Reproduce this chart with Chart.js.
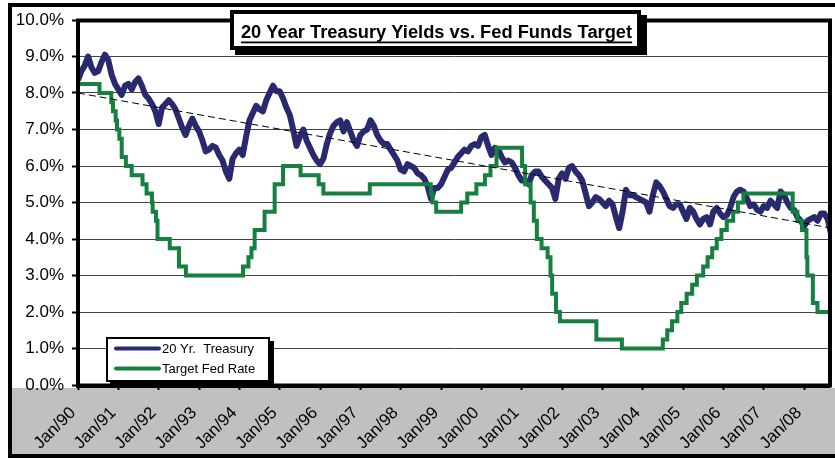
<!DOCTYPE html>
<html>
<head>
<meta charset="utf-8">
<title>20 Year Treasury Yields vs. Fed Funds Target</title>
<script src="https://cdn.jsdelivr.net/npm/chart.js@4/dist/chart.umd.min.js"></script>
<style>
  html, body { margin: 0; padding: 0; background: #fff; }
  #wrap { width: 835px; height: 458px; }
</style>
</head>
<body>
<div id="wrap"><canvas id="chart" width="835" height="458"></canvas></div>
<script>
// x values are months counted from Jan 1990 (0 = Jan/90)
const tickLabels = ['Jan/90', 'Jan/91', 'Jan/92', 'Jan/93', 'Jan/94', 'Jan/95', 'Jan/96',
  'Jan/97', 'Jan/98', 'Jan/99', 'Jan/00', 'Jan/01', 'Jan/02', 'Jan/03', 'Jan/04',
  'Jan/05', 'Jan/06', 'Jan/07', 'Jan/08'];

// 20 yr treasury, one value per month, Jan/90 .. Sep/08
const treasuryYields = [
  8.35, 8.60, 8.75, 9.00, 8.70, 8.55, 8.60, 8.85, 9.05, 8.90, 8.50, 8.25, // 1990
  8.10, 7.95, 8.20, 8.25, 8.10, 8.30, 8.40, 8.20, 7.95, 7.85, 7.70, 7.50, // 1991
  7.15, 7.60, 7.70, 7.80, 7.70, 7.55, 7.30, 7.05, 6.85, 7.10, 7.30, 7.10, // 1992
  6.95, 6.70, 6.40, 6.45, 6.55, 6.50, 6.30, 6.15, 5.85, 5.65, 6.20, 6.35, // 1993
  6.45, 6.30, 6.80, 7.25, 7.45, 7.65, 7.55, 7.50, 7.80, 8.00, 8.20, 8.05, // 1994
  8.05, 7.85, 7.60, 7.40, 7.00, 6.55, 6.80, 7.00, 6.70, 6.50, 6.30, 6.15, // 1995
  6.05, 6.20, 6.60, 6.90, 7.10, 7.20, 7.25, 6.95, 7.20, 6.95, 6.70, 6.55, // 1996
  6.85, 6.95, 7.00, 7.25, 7.10, 6.85, 6.70, 6.60, 6.60, 6.45, 6.30, 6.15, // 1997
  5.90, 5.85, 6.05, 6.00, 5.95, 5.80, 5.75, 5.65, 5.45, 5.10, 5.40, 5.40, // 1998
  5.50, 5.70, 5.90, 5.95, 6.10, 6.25, 6.35, 6.45, 6.40, 6.55, 6.60, 6.55, // 1999
  6.80, 6.85, 6.55, 6.30, 6.50, 6.45, 6.25, 6.10, 6.15, 6.10, 5.95, 5.75, // 2000
  5.60, 5.60, 5.50, 5.75, 5.85, 5.85, 5.70, 5.60, 5.50, 5.40, 5.10, 5.65, // 2001
  5.80, 5.65, 5.95, 6.00, 5.85, 5.75, 5.60, 5.25, 4.90, 5.00, 5.15, 5.10, // 2002
  5.00, 4.90, 5.05, 4.95, 4.60, 4.30, 4.75, 5.35, 5.20, 5.20, 5.15, 5.10, // 2003
  5.05, 5.00, 4.75, 5.20, 5.55, 5.45, 5.30, 5.10, 4.90, 4.85, 4.95, 4.95, // 2004
  4.75, 4.55, 4.85, 4.75, 4.55, 4.40, 4.55, 4.60, 4.40, 4.75, 4.85, 4.70, // 2005
  4.60, 4.65, 4.85, 5.15, 5.30, 5.35, 5.30, 5.10, 4.90, 4.95, 4.80, 4.75, // 2006
  4.90, 4.85, 5.05, 4.95, 4.85, 5.30, 5.20, 5.00, 4.85, 4.80, 4.60, 4.50, // 2007
  4.35, 4.50, 4.55, 4.60, 4.50, 4.70, 4.70, 4.55, 4.15                    // 2008
];

// fed funds target: month of each change and the new rate
const fedChangeMonths = [0, 6.4, 9.9, 10.4, 11.2, 11.6, 12.3, 13.0, 14.25, 15.97,
  19.2, 20.4, 22.0, 22.2, 23.2, 23.65, 27.3, 30.05, 32.1,
  49.1, 50.7, 51.6, 52.55, 55.5, 58.5, 61.0, 66.2, 71.6, 73.0, 86.8,
  104.95, 105.5, 106.55, 113.97, 115.8, 118.5, 121.05, 122.7, 124.5,
  132.1, 133.0, 134.65, 135.6, 136.5, 137.9, 139.7, 140.55, 141.05, 142.2, 143.35,
  154.2, 161.8, 173.97, 175.3, 176.7, 178.3, 179.45, 181.05, 182.7, 184.1, 185.97,
  187.3, 188.65, 190.0, 191.4, 193.0, 194.9, 196.3, 197.95,
  212.6, 214.0, 215.35, 216.7, 216.97, 218.6, 219.97, 224];
const fedTargetRates = [8.25, 8.0, 7.75, 7.5, 7.25, 7.0, 6.75, 6.25, 6.0, 5.75,
  5.5, 5.25, 5.0, 4.75, 4.5, 4.0, 3.75, 3.25, 3.0,
  3.25, 3.5, 3.75, 4.25, 4.75, 5.5, 6.0, 5.75, 5.5, 5.25, 5.5,
  5.25, 5.0, 4.75, 5.0, 5.25, 5.5, 5.75, 6.0, 6.5,
  6.0, 5.5, 5.0, 4.5, 4.0, 3.75, 3.5, 3.0, 2.5, 2.0, 1.75,
  1.25, 1.0, 1.25, 1.5, 1.75, 2.0, 2.25, 2.5, 2.75, 3.0, 3.25,
  3.5, 3.75, 4.0, 4.25, 4.5, 4.75, 5.0, 5.25,
  4.75, 4.5, 4.25, 3.5, 3.0, 2.25, 2.0, 2.0];

// linear trend of the treasury series, start and end
const trendMonths = [0, 224];
const trendValues = [8.0, 4.3];

const NAVY = '#29296f';
const GREEN = '#168040';
const FONT = '"Liberation Sans", Arial, sans-serif';

const treasuryPoints = treasuryYields.map((y, i) => ({ x: i, y: y }));
const fedPoints = fedChangeMonths.map((m, i) => ({ x: m, y: fedTargetRates[i] }));
const trendPoints = trendMonths.map((m, i) => ({ x: m, y: trendValues[i] }));

// background, frames, title box and legend box
const chartDecor = {
  id: 'chartDecor',
  beforeDraw(chart) {
    const ctx = chart.ctx;
    const a = chart.chartArea;
    ctx.save();
    ctx.fillStyle = '#fff';
    ctx.fillRect(0, 0, chart.width, chart.height);
    ctx.fillStyle = '#c0c0c0';
    ctx.fillRect(10, a.bottom + 3, chart.width, chart.height);
    ctx.strokeStyle = '#000';
    ctx.lineWidth = 4;
    ctx.strokeRect(10, 5, chart.width + 10, chart.height - 7);
    ctx.restore();
  },
  afterDatasetsDraw(chart) {
    const ctx = chart.ctx;
    const a = chart.chartArea;
    ctx.save();
    ctx.strokeStyle = '#000';
    ctx.lineWidth = 4;
    ctx.strokeRect(a.left, a.top + 0.5, a.right - a.left - 1, a.bottom - a.top);
    ctx.fillStyle = '#000';
    ctx.fillRect(a.left - 2, a.bottom + 1, a.right - a.left + 1, 2);
    ctx.restore();
  },
  afterDraw(chart) {
    const ctx = chart.ctx;
    ctx.save();

    // title box with drop shadow
    ctx.fillStyle = '#000';
    ctx.fillRect(235, 15, 412, 40);
    ctx.fillStyle = '#fff';
    ctx.fillRect(230, 10, 411, 40);
    ctx.strokeStyle = '#000';
    ctx.lineWidth = 4;
    ctx.strokeRect(232, 12, 407, 36);
    const title = '20 Year Treasury Yields vs. Fed Funds Target';
    ctx.font = 'bold 18.3px ' + FONT;
    ctx.fillStyle = '#000';
    ctx.textAlign = 'center';
    ctx.textBaseline = 'alphabetic';
    ctx.fillText(title, 436.5, 38);
    const tw = ctx.measureText(title).width;
    ctx.fillRect(436.5 - tw / 2, 41.5, tw, 1.8);

    // legend box
    ctx.fillStyle = '#000';
    ctx.fillRect(110, 341, 164, 44);
    ctx.fillStyle = '#fff';
    ctx.fillRect(106, 337, 164, 45);
    ctx.lineWidth = 2;
    ctx.strokeRect(107, 338, 162, 43);
    const items = chart.data.datasets
      .filter(d => d.legendRow !== undefined)
      .sort((p, q) => p.legendRow - q.legendRow);
    ctx.font = '13px ' + FONT;
    ctx.textAlign = 'left';
    ctx.textBaseline = 'middle';
    items.forEach((d, i) => {
      const y = 348.5 + i * 20;
      ctx.strokeStyle = d.borderColor;
      ctx.lineWidth = 4;
      ctx.lineCap = 'round';
      ctx.beginPath();
      ctx.moveTo(116, y);
      ctx.lineTo(159, y);
      ctx.stroke();
      ctx.fillStyle = '#000';
      ctx.fillText(d.label, 162, y + 0.5);
    });
    ctx.restore();
  }
};

new Chart(document.getElementById('chart'), {
  type: 'line',
  data: {
    datasets: [
      {
        label: 'Trend',
        data: trendPoints,
        borderColor: '#000',
        borderWidth: 1,
        borderDash: [7, 4],
        pointRadius: 0
      },
      {
        label: 'Target Fed Rate',
        data: fedPoints,
        borderColor: GREEN,
        borderWidth: 4,
        stepped: true,
        pointRadius: 0,
        legendRow: 1
      },
      {
        label: '20 Yr.  Treasury',
        data: treasuryPoints,
        borderColor: NAVY,
        borderWidth: 6,
        borderJoinStyle: 'round',
        tension: 0,
        pointRadius: 0,
        legendRow: 0
      }
    ]
  },
  options: {
    responsive: false,
    animation: false,
    events: [],
    layout: { padding: { top: 20, right: 4, left: 0, bottom: 0 } },
    plugins: {
      legend: { display: false },
      tooltip: { enabled: false },
      title: { display: false }
    },
    scales: {
      x: {
        type: 'linear',
        min: 0,
        max: 224,
        afterFit: s => { s.height = 73; },
        afterBuildTicks: s => {
          s.ticks = tickLabels.map((t, i) => ({ value: i * 12 }));
        },
        border: { display: false },
        grid: {
          drawOnChartArea: false,
          drawTicks: true,
          tickLength: 5,
          tickColor: '#000',
          tickWidth: 2
        },
        ticks: {
          autoSkip: false,
          minRotation: 45,
          maxRotation: 45,
          padding: 13,
          labelOffset: -5,
          color: '#000',
          font: { family: FONT, size: 17 },
          callback: v => tickLabels[Math.round(v / 12)]
        }
      },
      y: {
        min: 0,
        max: 10,
        afterFit: s => { s.width = 78; },
        border: { display: false },
        grid: {
          color: '#444',
          lineWidth: 1,
          tickLength: 6,
          tickColor: '#000',
          tickWidth: 2
        },
        ticks: {
          stepSize: 1,
          padding: 8,
          color: '#000',
          font: { family: FONT, size: 17 },
          callback: v => v.toFixed(1) + '%'
        }
      }
    }
  },
  plugins: [chartDecor]
});
</script>
</body>
</html>
